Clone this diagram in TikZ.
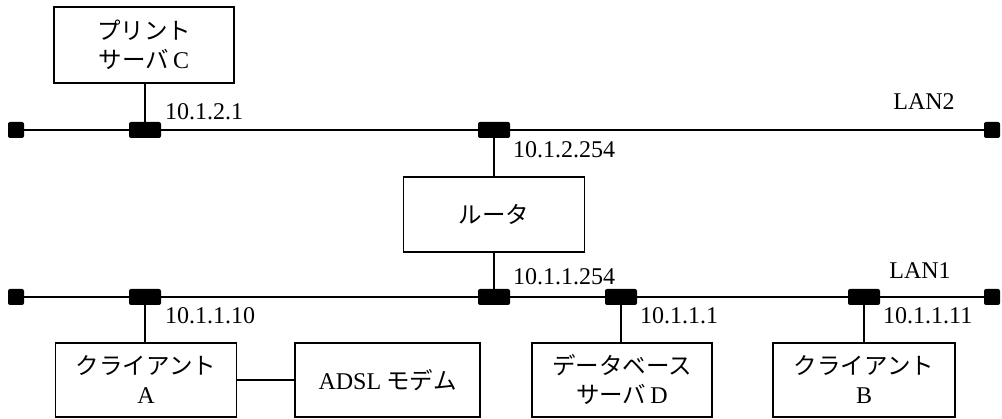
\documentclass[tikz,border=0pt]{standalone}
\usepackage{fontspec}
\setmainfont{Liberation Serif}
\newfontfamily\jp{Noto Sans CJK JP}
\usetikzlibrary{positioning}

\begin{document}
\begin{tikzpicture}[
    x=1pt, y=-1pt,
    font=\fontsize{24}{29}\selectfont,
    host/.style={rectangle, draw, line width=1.1pt, minimum width=181pt, minimum height=75pt, align=center, inner sep=0pt, font=\jp\fontsize{23.5}{29}\selectfont},
    tap/.style={rectangle, fill=black, rounded corners=2pt, minimum width=32pt, minimum height=16pt, inner sep=0pt},
    term/.style={tap, minimum width=16pt},
    lan/.style={line width=2.6pt},
    drop/.style={line width=1.1pt},
    addr/.style={anchor=west, inner sep=0pt}
]
\useasboundingbox (0,0) rectangle (1002,419);

% LAN2
\node[term] (l2a) at (16,130) {};
\node[term] (l2b) at (992,130) {};
\node[tap] (tC) at (145,130) {};
\node[tap] (tR2) at (494,130) {};
\draw[lan] (l2a) -- (l2b);
\node at (924,102) {LAN2};

% LAN1
\node[term] (l1a) at (16,297) {};
\node[term] (l1b) at (992,297) {};
\node[tap] (tA) at (145,297) {};
\node[tap] (tR1) at (494,297) {};
\node[tap] (tD) at (621,297) {};
\node[tap] (tB) at (864,297) {};
\draw[lan] (l1a) -- (l1b);
\node at (920,271) {LAN1};

% hosts
\node[host, minimum width=180pt, minimum height=76pt] (srvC) at (144,45) {プリント\\サーバ{\rmfamily\fontsize{24}{29}\selectfont\,C}};
\node[host] (router) at (494,214.5) {ルータ};
\node[host, minimum height=74pt] (cliA) at (146,380) {クライアント\\{\rmfamily\fontsize{24}{29}\selectfont A}};
\node[host, minimum width=185pt, minimum height=74pt] (modem) at (387.5,380) {{\rmfamily\fontsize{24}{29}\selectfont ADSL} モデム};
\node[host, minimum width=180pt, minimum height=74pt] (srvD) at (622,380) {データベース\\サーバ{\rmfamily\fontsize{24}{29}\selectfont\,D}};
\node[host, minimum width=182pt, minimum height=74pt] (cliB) at (864,380) {クライアント\\{\rmfamily\fontsize{24}{29}\selectfont B}};

% drops
\draw[drop] (tC) -- (tC |- srvC.south);
\draw[drop] (tR2) -- (tR2 |- router.north);
\draw[drop] (tR1) -- (tR1 |- router.south);
\draw[drop] (tA) -- (tA |- cliA.north);
\draw[drop] (tD) -- (tD |- srvD.north);
\draw[drop] (tB) -- (tB |- cliB.north);
\draw[drop] (cliA) -- (modem);

% addresses
\node[addr] (aC) at (165,112) {10.1.2.1};
\node[addr] (aR2) at (513,150) {10.1.2.254};
\node[addr] (aR1) at (513,277) {10.1.1.254};
\node[addr] (aA) at (165,316) {10.1.1.10};
\node[addr] (aD) at (640,316) {10.1.1.1};
\node[addr] (aB) at (883,316) {10.1.1.11};

\end{tikzpicture}
\end{document}
